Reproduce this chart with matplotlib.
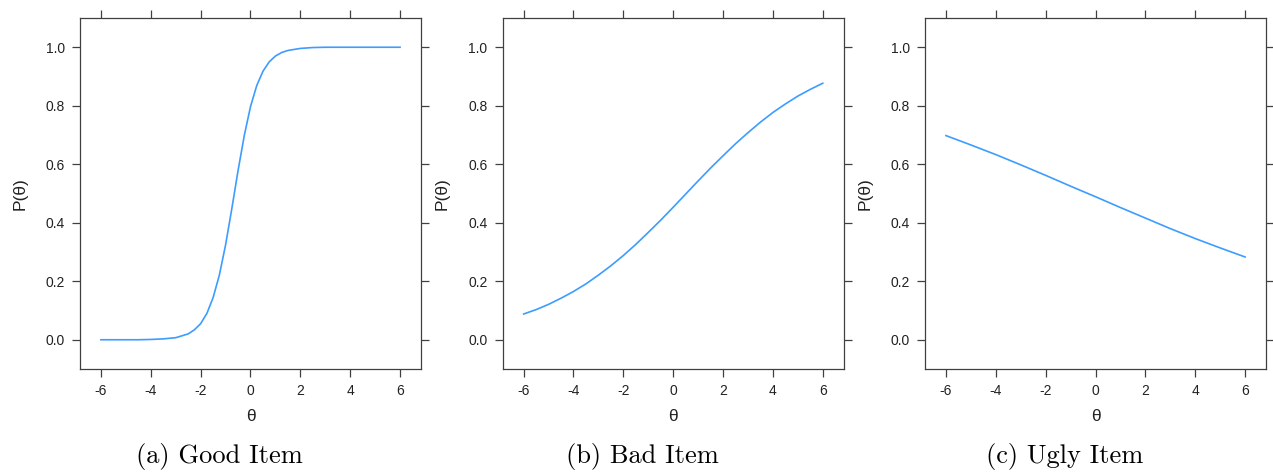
import matplotlib
matplotlib.use("Agg")
import matplotlib.pyplot as plt

# theta grid and item characteristic curves
theta_good = [-6, -5.5, -5, -4.5, -4, -3.5, -3, -2.5, -2.25, -2, -1.75, -1.5, -1.25,
              -1, -0.75, -0.5, -0.25, 0, 0.25, 0.5, 0.75, 1, 1.25, 1.5, 2, 2.5,
              3, 3.5, 4, 4.5, 5, 5.5, 6]
p_good = [0.000, 0.000, 0.000, 0.000, 0.001, 0.003, 0.007, 0.020, 0.034, 0.055,
          0.090, 0.144, 0.221, 0.324, 0.448, 0.578, 0.698, 0.797, 0.869, 0.918,
          0.950, 0.970, 0.982, 0.989, 0.996, 0.999, 1.000, 1.000, 1.000, 1.000,
          1.000, 1.000, 1.000]

theta_bad = [-6, -5.5, -5, -4.5, -4, -3.5, -3, -2.5, -2, -1.5, -1, -0.5, 0,
             0.5, 1, 1.5, 2, 2.5, 3, 3.5, 4, 4.5, 5, 5.5, 6]
p_bad = [0.088, 0.103, 0.121, 0.142, 0.165, 0.191, 0.221, 0.253, 0.288, 0.326,
         0.367, 0.409, 0.453, 0.498, 0.543, 0.587, 0.629, 0.670, 0.708, 0.744,
         0.777, 0.806, 0.833, 0.856, 0.877]

theta_ugly = [-6, -5, -4, -3, -2, -1, 0, 1, 2, 3, 4, 5, 6]
p_ugly = [0.698, 0.666, 0.633, 0.598, 0.562, 0.525, 0.489, 0.452, 0.416, 0.380,
          0.346, 0.314, 0.283]

captions = ["(a) Good Item", "(b) Bad Item", "(c) Ugly Item"]
xticks = [-6, -4, -2, 0, 2, 4, 6]
yticks = [0.0, 0.2, 0.4, 0.6, 0.8, 1.0]

W, H = 1273, 473
fig = plt.figure(figsize=(W / 100, H / 100), dpi=100)
plt.rcParams['font.family'] = ['Liberation Sans', 'DejaVu Sans']

lefts = [80, 502.7, 925]
width = 341
top, bottom = 18, 369
data = [(theta_good, p_good), (theta_bad, p_bad), (theta_ugly, p_ugly)]

for i in range(3):
    ax = fig.add_axes([lefts[i] / W, 1 - bottom / H, width / W, (bottom - top) / H])
    x, y = data[i]
    ax.plot(x, y, color="#3d9cff", linewidth=1.2)
    ax.set_xlim(-6.84, 6.84)
    ax.set_ylim(-0.1, 1.1)
    ax.set_xticks(xticks)
    ax.set_yticks(yticks)
    ax.set_xticklabels([str(t) for t in xticks])
    ax.set_yticklabels(["%.1f" % t for t in yticks])
    ax.tick_params(direction="out", length=6, width=0.9, color="#404040",
                   labelsize=10, labelcolor="#222222", pad=5,
                   top=True, right=True)
    for s in ax.spines.values():
        s.set_color("#404040")
        s.set_linewidth(0.9)
    ax.set_xlabel("θ", fontsize=12.5, labelpad=8, color="#222222")
    ax.set_ylabel("P(θ)", fontsize=12.5, labelpad=13, color="#222222")
    # captions sit a bit left of the panel centres, as in the source document
    fig.text((lefts[i] + width / 2 - 31) / W, 1 - 456 / H, captions[i],
             ha="center", va="center", fontsize=19, family="cmr10")

fig.savefig("out.png", dpi=100)
